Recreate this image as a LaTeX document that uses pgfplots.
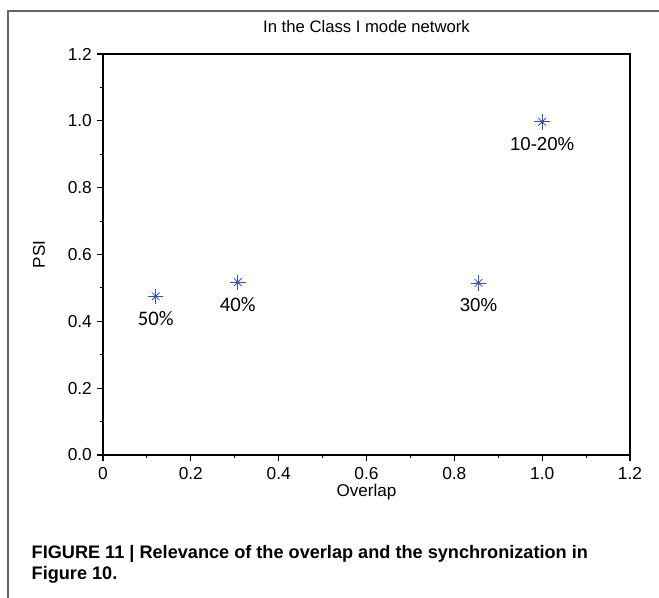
\documentclass[border=0pt]{standalone}
\usepackage{fontspec}
\setmainfont{Liberation Sans}
\newfontfamily\calib{Carlito}
\usepackage{pgfplots}
\pgfplotsset{compat=1.18}
\definecolor{starblue}{RGB}{55,80,170}
\begin{document}
\begin{tikzpicture}
\useasboundingbox (0pt,0pt) rectangle (494.25pt,-448.5pt);
\draw[line width=1.1pt, black!60] (6pt,-448.5pt) -- (6pt,-8.25pt) -- (494.25pt,-8.25pt);
\begin{axis}[
  at={(77.25pt,-341.25pt)}, anchor=south west,
  scale only axis, width=395.25pt, height=300.75pt,
  xmin=0, xmax=1.2, ymin=0, ymax=1.2,
  xtick={0,0.2,0.4,0.6,0.8,1.0,1.2},
  xticklabels={0,0.2,0.4,0.6,0.8,1.0,1.2},
  ytick={0,0.2,0.4,0.6,0.8,1.0,1.2},
  yticklabels={0.0,0.2,0.4,0.6,0.8,1.0,1.2},
  minor tick num=1,
  tick align=outside, xtick pos=left, ytick pos=left,
  major tick length=4.5pt, minor tick length=2.5pt,
  axis line style={line width=0.8pt},
  every tick/.style={line width=0.8pt, black},
  tick label style={font=\fontsize{13}{14}\selectfont},
  /pgf/number format/assume math mode=true,
  yticklabel style={xshift=-0.3pt},
  xticklabel style={yshift=-1pt},
  title={In the Class I mode network},
  title style={font=\fontsize{12.5}{14}\selectfont, at={(0.5,1)}, anchor=base, yshift=10pt},
  xlabel={Overlap},
  xlabel style={font=\fontsize{12.8}{14}\selectfont, at={(axis description cs:0.5,-0.0923)}, anchor=center},
  ylabel={PSI},
  ylabel style={font=\fontsize{12.8}{14}\selectfont, at={(axis description cs:-0.1214,0.5)}, anchor=center, rotate=0},
  clip=false,
]
\addplot[only marks, mark=+, mark size=5.8pt, starblue, mark options={line width=0.6pt}] coordinates {
  (0.12,0.475) (0.307,0.517) (0.855,0.515) (1.0,0.997)
};
\addplot[only marks, mark=x, mark size=4.1pt, starblue, mark options={line width=0.6pt}] coordinates {
  (0.12,0.475) (0.307,0.517) (0.855,0.515) (1.0,0.997)
};
\addplot[only marks, mark=*, mark size=1.1pt, starblue] coordinates {
  (0.12,0.475) (0.307,0.517) (0.855,0.515) (1.0,0.997)
};
\node[font=\calib\fontsize{15.5}{17}\selectfont, yshift=-17pt] at (axis cs:0.12,0.475) {50\%};
\node[font=\calib\fontsize{15.5}{17}\selectfont, yshift=-17pt] at (axis cs:0.307,0.517) {40\%};
\node[font=\fontsize{14}{16}\selectfont, yshift=-16.5pt] at (axis cs:0.855,0.515) {30\%};
\node[font=\fontsize{14}{16}\selectfont, yshift=-16.5pt] at (axis cs:1.0,0.997) {10-20\%};
\end{axis}
\node[anchor=base west, font=\bfseries\fontsize{13.6}{16}\selectfont] at (20.25pt,-418.5pt) {FIGURE 11 | Relevance of the overlap and the synchronization in};
\node[anchor=base west, font=\bfseries\fontsize{13.6}{16}\selectfont] at (20.25pt,-434.25pt) {Figure 10.};
\end{tikzpicture}
\end{document}
